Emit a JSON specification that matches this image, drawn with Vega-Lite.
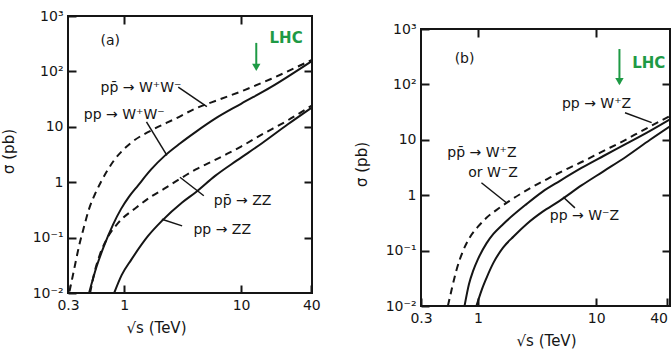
{
  "$schema": "https://vega.github.io/schema/vega-lite/v6.json",
  "background": "white",
  "padding": {"left": 0, "top": 8, "right": 0, "bottom": 0},
  "config": {
    "view": {"stroke": "#151515", "strokeWidth": 2},
    "font": "DejaVu Sans",
    "axis": {"domain": false, "grid": false, "tickColor": "#151515", "tickWidth": 2, "tickSize": -8, "labelPadding": 13, "labelFontSize": 14, "labelColor": "#151515", "titleFontSize": 15, "titleColor": "#151515", "titleFontWeight": "normal", "labelFont": "DejaVu Sans", "titleFont": "DejaVu Sans"},
    "text": {"font": "DejaVu Sans", "fontSize": 14, "color": "#151515"},
    "line": {"color": "#151515", "strokeWidth": 2}
  },
  "datasets": {
    "curvesA": [
      {"series": "ppbar_WW", "x": 0.34, "y": 0.0107}, {"series": "ppbar_WW", "x": 0.37, "y": 0.025}, {"series": "ppbar_WW", "x": 0.41, "y": 0.07}, {"series": "ppbar_WW", "x": 0.45, "y": 0.15}, {"series": "ppbar_WW", "x": 0.5, "y": 0.33}, {"series": "ppbar_WW", "x": 0.56, "y": 0.6}, {"series": "ppbar_WW", "x": 0.63, "y": 1.0}, {"series": "ppbar_WW", "x": 0.72, "y": 1.65}, {"series": "ppbar_WW", "x": 0.82, "y": 2.5}, {"series": "ppbar_WW", "x": 1.0, "y": 4.0}, {"series": "ppbar_WW", "x": 1.15, "y": 5.2}, {"series": "ppbar_WW", "x": 1.72, "y": 8.7}, {"series": "ppbar_WW", "x": 2.74, "y": 14}, {"series": "ppbar_WW", "x": 4.1, "y": 21.5}, {"series": "ppbar_WW", "x": 6.5, "y": 31}, {"series": "ppbar_WW", "x": 10.7, "y": 46}, {"series": "ppbar_WW", "x": 18, "y": 73}, {"series": "ppbar_WW", "x": 40, "y": 160},
      {"series": "pp_WW", "x": 0.5, "y": 0.01}, {"series": "pp_WW", "x": 0.58, "y": 0.03}, {"series": "pp_WW", "x": 0.67, "y": 0.07}, {"series": "pp_WW", "x": 0.8, "y": 0.17}, {"series": "pp_WW", "x": 0.94, "y": 0.33}, {"series": "pp_WW", "x": 1.1, "y": 0.55}, {"series": "pp_WW", "x": 1.31, "y": 0.87}, {"series": "pp_WW", "x": 1.7, "y": 1.7}, {"series": "pp_WW", "x": 2.24, "y": 3.05}, {"series": "pp_WW", "x": 3, "y": 5}, {"series": "pp_WW", "x": 4.1, "y": 8.1}, {"series": "pp_WW", "x": 6, "y": 14}, {"series": "pp_WW", "x": 10, "y": 26}, {"series": "pp_WW", "x": 18, "y": 52}, {"series": "pp_WW", "x": 40, "y": 152},
      {"series": "ppbar_ZZ", "x": 0.51, "y": 0.01}, {"series": "ppbar_ZZ", "x": 0.56, "y": 0.025}, {"series": "ppbar_ZZ", "x": 0.62, "y": 0.05}, {"series": "ppbar_ZZ", "x": 0.72, "y": 0.1}, {"series": "ppbar_ZZ", "x": 0.9, "y": 0.19}, {"series": "ppbar_ZZ", "x": 1.27, "y": 0.35}, {"series": "ppbar_ZZ", "x": 1.7, "y": 0.55}, {"series": "ppbar_ZZ", "x": 2.24, "y": 0.78}, {"series": "ppbar_ZZ", "x": 2.9, "y": 1.1}, {"series": "ppbar_ZZ", "x": 4.1, "y": 1.7}, {"series": "ppbar_ZZ", "x": 5.5, "y": 2.3}, {"series": "ppbar_ZZ", "x": 7.5, "y": 3.2}, {"series": "ppbar_ZZ", "x": 10, "y": 4.4}, {"series": "ppbar_ZZ", "x": 15, "y": 7.2}, {"series": "ppbar_ZZ", "x": 25, "y": 13}, {"series": "ppbar_ZZ", "x": 40, "y": 24},
      {"series": "pp_ZZ", "x": 0.82, "y": 0.01}, {"series": "pp_ZZ", "x": 0.95, "y": 0.021}, {"series": "pp_ZZ", "x": 1.15, "y": 0.04}, {"series": "pp_ZZ", "x": 1.6, "y": 0.107}, {"series": "pp_ZZ", "x": 2.1, "y": 0.2}, {"series": "pp_ZZ", "x": 3.13, "y": 0.43}, {"series": "pp_ZZ", "x": 4.1, "y": 0.66}, {"series": "pp_ZZ", "x": 6, "y": 1.3}, {"series": "pp_ZZ", "x": 9.3, "y": 2.5}, {"series": "pp_ZZ", "x": 15, "y": 5}, {"series": "pp_ZZ", "x": 25, "y": 11}, {"series": "pp_ZZ", "x": 40, "y": 22}
    ],
    "labelsA": [
      {"text": "(a)", "x": 0.76, "y": 351},
      {"text": "pp̄ → W⁺W⁻", "x": 1.39, "y": 49.7},
      {"text": "pp → W⁺W⁻", "x": 1.0, "y": 16.3},
      {"text": "pp̄ → ZZ", "x": 10.3, "y": 0.46},
      {"text": "pp → ZZ", "x": 6.9, "y": 0.14}
    ],
    "arrowsA": [
      {"x": 2.9, "y": 52, "x2": 5.1, "y2": 23.1},
      {"x": 1.55, "y": 12.3, "x2": 2.32, "y2": 3.05},
      {"x": 4.8, "y": 0.57, "x2": 3.0, "y2": 1.23},
      {"x": 3.13, "y": 0.163, "x2": 2.1, "y2": 0.215}
    ],
    "lhcA": [{"x": 13.5, "y": 327, "y2": 115, "head": 118, "tx": 24.3, "ty": 403, "label": "LHC"}],
    "curvesB": [
      {"series": "ppbar_WZ", "x": 0.557, "y": 0.01}, {"series": "ppbar_WZ", "x": 0.6, "y": 0.02}, {"series": "ppbar_WZ", "x": 0.655, "y": 0.043}, {"series": "ppbar_WZ", "x": 0.75, "y": 0.1}, {"series": "ppbar_WZ", "x": 0.85, "y": 0.171}, {"series": "ppbar_WZ", "x": 1.0, "y": 0.27}, {"series": "ppbar_WZ", "x": 1.18, "y": 0.39}, {"series": "ppbar_WZ", "x": 1.5, "y": 0.58}, {"series": "ppbar_WZ", "x": 1.85, "y": 0.79}, {"series": "ppbar_WZ", "x": 2.7, "y": 1.3}, {"series": "ppbar_WZ", "x": 4.04, "y": 2.07}, {"series": "ppbar_WZ", "x": 5.5, "y": 2.9}, {"series": "ppbar_WZ", "x": 7.76, "y": 4.1}, {"series": "ppbar_WZ", "x": 11, "y": 6}, {"series": "ppbar_WZ", "x": 16.9, "y": 9.5}, {"series": "ppbar_WZ", "x": 25, "y": 15}, {"series": "ppbar_WZ", "x": 42, "y": 26.9},
      {"series": "pp_WpZ", "x": 0.77, "y": 0.01}, {"series": "pp_WpZ", "x": 0.84, "y": 0.025}, {"series": "pp_WpZ", "x": 0.91, "y": 0.043}, {"series": "pp_WpZ", "x": 1.0, "y": 0.07}, {"series": "pp_WpZ", "x": 1.18, "y": 0.135}, {"series": "pp_WpZ", "x": 1.35, "y": 0.2}, {"series": "pp_WpZ", "x": 1.63, "y": 0.3}, {"series": "pp_WpZ", "x": 2.57, "y": 0.69}, {"series": "pp_WpZ", "x": 3.5, "y": 1.15}, {"series": "pp_WpZ", "x": 4.9, "y": 1.8}, {"series": "pp_WpZ", "x": 7.5, "y": 3.1}, {"series": "pp_WpZ", "x": 11.5, "y": 5.1}, {"series": "pp_WpZ", "x": 18, "y": 8.5}, {"series": "pp_WpZ", "x": 28.5, "y": 14.5}, {"series": "pp_WpZ", "x": 42, "y": 23.4},
      {"series": "pp_WmZ", "x": 0.97, "y": 0.01}, {"series": "pp_WmZ", "x": 1.08, "y": 0.02}, {"series": "pp_WmZ", "x": 1.18, "y": 0.032}, {"series": "pp_WmZ", "x": 1.35, "y": 0.06}, {"series": "pp_WmZ", "x": 1.63, "y": 0.113}, {"series": "pp_WmZ", "x": 2.0, "y": 0.18}, {"series": "pp_WmZ", "x": 2.57, "y": 0.3}, {"series": "pp_WmZ", "x": 3.5, "y": 0.5}, {"series": "pp_WmZ", "x": 4.9, "y": 0.79}, {"series": "pp_WmZ", "x": 7.5, "y": 1.5}, {"series": "pp_WmZ", "x": 11.5, "y": 2.7}, {"series": "pp_WmZ", "x": 18, "y": 5}, {"series": "pp_WmZ", "x": 28.5, "y": 10}, {"series": "pp_WmZ", "x": 42, "y": 17.5}
    ],
    "labelsB": [
      {"text": "(b)", "x": 0.77, "y": 287},
      {"text": "pp → W⁺Z", "x": 10.06, "y": 43.7},
      {"text": "pp̄ → W⁺Z", "x": 1.08, "y": 5.85},
      {"text": "or W⁻Z", "x": 1.34, "y": 2.55},
      {"text": "pp → W⁻Z", "x": 7.95, "y": 0.42}
    ],
    "arrowsB": [
      {"x": 1.07, "y": 1.68, "x2": 1.74, "y2": 0.73},
      {"x": 17.5, "y": 30.8, "x2": 29.4, "y2": 20.4},
      {"x": 6.6, "y": 0.59, "x2": 5.25, "y2": 0.93}
    ],
    "lhcB": [{"x": 15.7, "y": 435, "y2": 105, "head": 112, "tx": 27.8, "ty": 243, "label": "LHC"}]
  },
  "hconcat": [
    {
      "width": 244,
      "height": 277,
      "layer": [
        {
          "data": {"name": "curvesA"},
          "transform": [{"filter": "indexof(datum.series, 'ppbar') != 0"}],
          "mark": {"type": "line", "interpolate": "monotone", "clip": true},
          "encoding": {
            "x": {"field": "x", "type": "quantitative", "scale": {"type": "log", "domain": [0.33, 40.5], "nice": false},
              "axis": {"orient": "bottom", "values": [0.33, 1, 10, 40], "labelFlush": false, "labelExpr": "datum.value < 0.5 ? '0.3' : format(datum.value, 'd')", "title": "√s  (TeV)", "titlePadding": 8, "titleX": 88}},
            "y": {"field": "y", "type": "quantitative", "scale": {"type": "log", "domain": [0.01, 1000], "nice": false},
              "axis": {"orient": "left", "values": [0.01, 0.1, 1, 10, 100, 1000], "labelExpr": "datum.value >= 999 ? '10³' : datum.value >= 99 ? '10²' : datum.value >= 9 ? '10' : datum.value >= 0.9 ? '1' : datum.value >= 0.09 ? '10⁻¹' : '10⁻²'", "title": "σ (pb)", "titleX": -52, "titleY": 135}},
            "detail": {"field": "series", "type": "nominal"}
          }
        },
        {
          "data": {"name": "curvesA"},
          "transform": [{"filter": "indexof(datum.series, 'ppbar') == 0"}],
          "mark": {"type": "line", "interpolate": "monotone", "clip": true, "strokeDash": [7, 5]},
          "encoding": {
            "x": {"field": "x", "type": "quantitative", "axis": null},
            "y": {"field": "y", "type": "quantitative", "axis": null},
            "detail": {"field": "series", "type": "nominal"}
          }
        },
        {
          "data": {"name": "curvesA"},
          "mark": {"type": "point", "opacity": 0},
          "encoding": {
            "x": {"field": "x", "type": "quantitative", "axis": {"orient": "top", "values": [1, 10], "labels": false, "title": null}},
            "y": {"field": "y", "type": "quantitative", "axis": {"orient": "right", "values": [0.1, 1, 10, 100], "labels": false, "title": null}}
          }
        },
        {
          "data": {"name": "arrowsA"},
          "mark": {"type": "rule", "color": "#151515", "strokeWidth": 1.5},
          "encoding": {
            "x": {"field": "x", "type": "quantitative", "axis": null},
            "y": {"field": "y", "type": "quantitative", "axis": null},
            "x2": {"field": "x2"},
            "y2": {"field": "y2"}
          }
        },
        {
          "data": {"name": "labelsA"},
          "mark": {"type": "text", "align": "center", "baseline": "middle"},
          "encoding": {
            "x": {"field": "x", "type": "quantitative", "axis": null},
            "y": {"field": "y", "type": "quantitative", "axis": null},
            "text": {"field": "text"}
          }
        },
        {
          "data": {"name": "lhcA"},
          "mark": {"type": "rule", "color": "#1e9a45", "strokeWidth": 2},
          "encoding": {
            "x": {"field": "x", "type": "quantitative", "axis": null},
            "y": {"field": "y", "type": "quantitative", "axis": null},
            "y2": {"field": "y2"}
          }
        },
        {
          "data": {"name": "lhcA"},
          "mark": {"type": "point", "shape": "triangle-down", "filled": true, "color": "#1e9a45", "size": 70, "opacity": 1},
          "encoding": {
            "x": {"field": "x", "type": "quantitative", "axis": null},
            "y": {"field": "head", "type": "quantitative", "axis": null}
          }
        },
        {
          "data": {"name": "lhcA"},
          "mark": {"type": "text", "color": "#1e9a45", "fontSize": 15, "fontWeight": "bold", "align": "center", "baseline": "middle"},
          "encoding": {
            "x": {"field": "tx", "type": "quantitative", "axis": null},
            "y": {"field": "ty", "type": "quantitative", "axis": null},
            "text": {"field": "label"}
          }
        }
      ],
      "resolve": {"axis": {"x": "independent", "y": "independent"}}
    },
    {
      "spacing": 0,
      "vconcat": [
        {
          "width": 249,
          "height": 3,
          "view": {"stroke": "transparent"},
          "data": {"values": [{"a": 1}]},
          "mark": {"type": "point", "opacity": 0},
          "encoding": {}
        },
        {
          "width": 249,
          "height": 277,
          "layer": [
            {
              "data": {"name": "curvesB"},
              "transform": [{"filter": "indexof(datum.series, 'ppbar') != 0"}],
              "mark": {"type": "line", "interpolate": "monotone", "clip": true},
              "encoding": {
                "x": {"field": "x", "type": "quantitative", "scale": {"type": "log", "domain": [0.33, 42], "nice": false},
                  "axis": {"orient": "bottom", "values": [0.33, 1, 10, 40], "labelExpr": "datum.value < 0.5 ? '0.3' : format(datum.value, 'd')", "labelAlign": {"condition": {"test": "datum.value > 30", "value": "right"}, "value": "center"}, "title": "√s  (TeV)", "titlePadding": 8, "titleX": 125}},
                "y": {"field": "y", "type": "quantitative", "scale": {"type": "log", "domain": [0.01, 1000], "nice": false},
                  "axis": {"orient": "left", "values": [0.01, 0.1, 1, 10, 100, 1000], "labelExpr": "datum.value >= 999 ? '10³' : datum.value >= 99 ? '10²' : datum.value >= 9 ? '10' : datum.value >= 0.9 ? '1' : datum.value >= 0.09 ? '10⁻¹' : '10⁻²'", "title": "σ (pb)", "titleX": -52, "titleY": 135}},
                "detail": {"field": "series", "type": "nominal"}
              }
            },
            {
              "data": {"name": "curvesB"},
              "transform": [{"filter": "indexof(datum.series, 'ppbar') == 0"}],
              "mark": {"type": "line", "interpolate": "monotone", "clip": true, "strokeDash": [7, 5]},
              "encoding": {
                "x": {"field": "x", "type": "quantitative", "axis": null},
                "y": {"field": "y", "type": "quantitative", "axis": null},
                "detail": {"field": "series", "type": "nominal"}
              }
            },
            {
              "data": {"name": "curvesB"},
              "mark": {"type": "point", "opacity": 0},
              "encoding": {
                "x": {"field": "x", "type": "quantitative", "axis": {"orient": "top", "values": [1, 10], "labels": false, "title": null}},
                "y": {"field": "y", "type": "quantitative", "axis": {"orient": "right", "values": [0.1, 1, 10, 100], "labels": false, "title": null}}
              }
            },
            {
              "data": {"name": "arrowsB"},
              "mark": {"type": "rule", "color": "#151515", "strokeWidth": 1.5},
              "encoding": {
                "x": {"field": "x", "type": "quantitative", "axis": null},
                "y": {"field": "y", "type": "quantitative", "axis": null},
                "x2": {"field": "x2"},
                "y2": {"field": "y2"}
              }
            },
            {
              "data": {"name": "labelsB"},
              "mark": {"type": "text", "align": "center", "baseline": "middle"},
              "encoding": {
                "x": {"field": "x", "type": "quantitative", "axis": null},
                "y": {"field": "y", "type": "quantitative", "axis": null},
                "text": {"field": "text"}
              }
            },
            {
              "data": {"name": "lhcB"},
              "mark": {"type": "rule", "color": "#1e9a45", "strokeWidth": 2},
              "encoding": {
                "x": {"field": "x", "type": "quantitative", "axis": null},
                "y": {"field": "y", "type": "quantitative", "axis": null},
                "y2": {"field": "y2"}
              }
            },
            {
              "data": {"name": "lhcB"},
              "mark": {"type": "point", "shape": "triangle-down", "filled": true, "color": "#1e9a45", "size": 70, "opacity": 1},
              "encoding": {
                "x": {"field": "x", "type": "quantitative", "axis": null},
                "y": {"field": "head", "type": "quantitative", "axis": null}
              }
            },
            {
              "data": {"name": "lhcB"},
              "mark": {"type": "text", "color": "#1e9a45", "fontSize": 15, "fontWeight": "bold", "align": "center", "baseline": "middle"},
              "encoding": {
                "x": {"field": "tx", "type": "quantitative", "axis": null},
                "y": {"field": "ty", "type": "quantitative", "axis": null},
                "text": {"field": "label"}
              }
            }
          ],
          "resolve": {"axis": {"x": "independent", "y": "independent"}}
        }
      ]
    }
  ],
  "spacing": 31
}
